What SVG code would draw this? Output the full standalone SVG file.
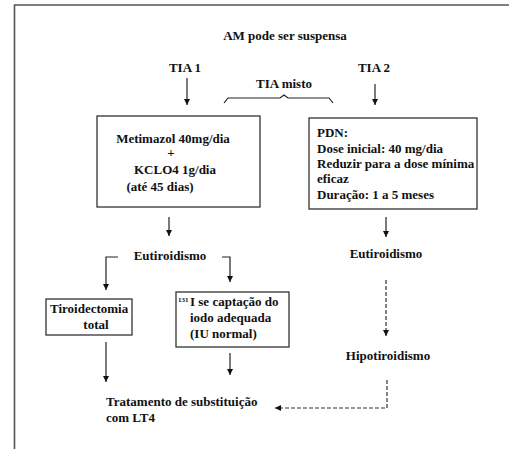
<svg xmlns="http://www.w3.org/2000/svg" width="509" height="449" viewBox="0 0 509 449">
<defs>
<marker id="ah" markerWidth="8" markerHeight="8" refX="6" refY="4" orient="auto" markerUnits="userSpaceOnUse">
<path d="M0,1 L6,4 L0,7 Z" fill="#111"/>
</marker>
<style>
text{font-family:"Liberation Serif","Times New Roman",serif;font-weight:bold;font-size:13px;fill:#111}
.c{text-anchor:middle}
.box{fill:#fff;stroke:#333;stroke-width:1.3}
.ln{fill:none;stroke:#222;stroke-width:1.2}
.ds{fill:none;stroke:#333;stroke-width:1.2;stroke-dasharray:4,2}
</style>
</defs>
<rect width="509" height="449" fill="#fff"/>
<path d="M14.5,449 V5 H509" fill="none" stroke="#555" stroke-width="1.6"/>
<g id="title"><text class="c" x="285" y="40">AM pode ser suspensa</text></g>
<g id="tia1"><text class="c" x="185" y="72">TIA 1</text></g>
<g id="tia2"><text class="c" x="374" y="72">TIA 2</text></g>
<g id="tiamisto"><text class="c" x="284" y="88">TIA misto</text>
<path class="ln" d="M224,103 L228,98 H280 L284,95 L288,98 H329 L333,103"/></g>
<g id="box1"><rect class="box" x="97" y="116" width="163" height="91"/>
<text class="c" x="173" y="143">Metimazol 40mg/dia</text>
<text class="c" x="171" y="157">+</text>
<text class="c" x="175" y="174">KCLO4 1g/dia</text>
<text class="c" x="160" y="191">(até 45 dias)</text></g>
<g id="box2"><rect class="box" x="309" y="118" width="168" height="91"/>
<text x="317" y="137">PDN:</text>
<text x="317" y="153">Dose inicial: 40 mg/dia</text>
<text x="317" y="168">Reduzir para a dose mínima</text>
<text x="317" y="183">eficaz</text>
<text x="317" y="199">Duração: 1 a 5 meses</text></g>
<g id="eut1"><text class="c" x="170" y="260">Eutiroidismo</text></g>
<g id="eut2"><text class="c" x="386" y="258">Eutiroidismo</text></g>
<g id="hipo"><text class="c" x="388" y="360">Hipotiroidismo</text></g>
<g id="tiro"><rect class="box" x="46" y="299" width="86" height="36"/>
<text x="50" y="313">Tiroidectomia</text>
<text class="c" x="96" y="329">total</text></g>
<g id="iodo"><rect class="box" x="176" y="292" width="113" height="55"/>
<text x="178" y="302" style="font-size:7px">131</text>
<text x="190" y="306">I se captação do</text>
<text x="190" y="322">iodo adequada</text>
<text x="190" y="338">(IU normal)</text></g>
<g id="trat"><text x="106" y="406">Tratamento de substituição</text>
<text x="106" y="422">com LT4</text></g>
<g id="connectors">
<path class="ln" d="M187,78 V105" marker-end="url(#ah)"/>
<path class="ln" d="M375,84 V105" marker-end="url(#ah)"/>
<path class="ln" d="M169,217 V236" marker-end="url(#ah)"/>
<path class="ln" d="M386,217 V237" marker-end="url(#ah)"/>
<path class="ln" d="M118,257 H106 V290" marker-end="url(#ah)"/>
<path class="ln" d="M222,257 H230 V282" marker-end="url(#ah)"/>
<path class="ln" d="M106,342 V382" marker-end="url(#ah)"/>
<path class="ln" d="M230,353 V375" marker-end="url(#ah)"/>
<path class="ds" d="M386,280 V336" marker-end="url(#ah)"/>
<path class="ds" d="M387,380 V408 H275" marker-end="url(#ah)"/>
</g>
</svg>
